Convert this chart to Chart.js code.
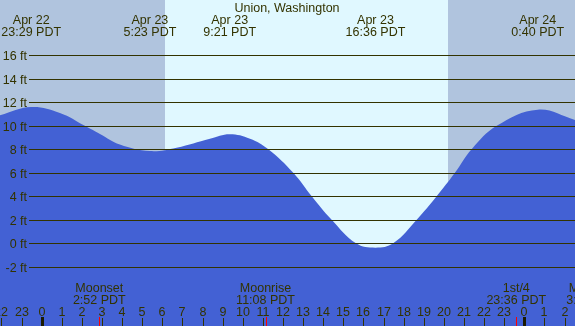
<!DOCTYPE html>
<html>
<head>
<meta charset="utf-8">
<script src="https://cdn.jsdelivr.net/npm/chart.js@4/dist/chart.umd.min.js"></script>
<style>
  body { margin: 0; background: #ffffff; }
  #wrap { width: 575px; height: 326px; position: relative; }
</style>
</head>
<body>
<div id="wrap"><canvas id="tideChart"></canvas></div>
<script>
// hours are counted from Apr 23 00:00 PDT
let tideHours = [-2.07, -0.52, 0.91, 2.15, 2.9, 3.89, 5.38, 6.71, 8.37, 9.35, 10.36, 11.27, 12.51, 13.43, 14.42, 15.63, 16.6, 17.48, 18.65, 19.64, 20.55, 21.38, 22.63, 24.67, 26.52];
let tideFeet  = [10.9, 11.6, 11.1, 10.0, 9.3, 8.4, 7.85, 8.14, 8.9, 9.28, 8.9, 8.0, 6.0, 4.0, 2.0, 0.0, -0.37, 0.0, 2.0, 4.0, 6.0, 8.0, 10.0, 11.37, 10.5];

let extremeHours = [-0.517, 5.383, 9.35, 16.6, 24.667];
let extremeDates = ['Apr 22', 'Apr 23', 'Apr 23', 'Apr 23', 'Apr 24'];
let extremeTimes = ['23:29 PDT', '5:23 PDT', '9:21 PDT', '16:36 PDT', '0:40 PDT'];

let moonHours = [2.867, 11.133, 23.6, 27.4];
let moonNames = ['Moonset', 'Moonrise', '1st/4', 'Moonset'];
let moonTimes = ['2:52 PDT', '11:08 PDT', '23:36 PDT', '3:24 PDT'];

let sunrise = 6.13;
let sunset = 20.2;

let feetTicks = [-2, 0, 2, 4, 6, 8, 10, 12, 14, 16];
let hourTicks = [-2, -1, 0, 1, 2, 3, 4, 5, 6, 7, 8, 9, 10, 11, 12, 13, 14, 15, 16, 17, 18, 19, 20, 21, 22, 23, 24, 25, 26];

let title = 'Union, Washington';

const textColor = '#333300';
const font = "12.5px 'Liberation Sans', Arial, sans-serif";

let tideDecor = {
    id: 'tideDecor',
    beforeDatasetsDraw(chart) {
        let ctx = chart.ctx, xs = chart.scales.x, a = chart.chartArea;
        ctx.save();
        ctx.fillStyle = '#e0f8ff';
        ctx.fillRect(a.left, a.top, a.right - a.left, a.bottom - a.top);
        ctx.fillStyle = '#b0c4de';
        let xr = Math.round(xs.getPixelForValue(sunrise));
        let xsn = Math.round(xs.getPixelForValue(sunset));
        ctx.fillRect(a.left, a.top, xr - a.left, a.bottom - a.top);
        ctx.fillRect(xsn, a.top, a.right - xsn, a.bottom - a.top);
        ctx.restore();
    },
    afterDatasetsDraw(chart) {
        let ctx = chart.ctx, xs = chart.scales.x, ys = chart.scales.y, a = chart.chartArea;
        ctx.save();
        ctx.font = font;
        ctx.fillStyle = textColor;

        // horizontal grid lines with labels
        ctx.strokeStyle = '#333300';
        ctx.lineWidth = 1;
        feetTicks.forEach(ft => {
            let y = Math.round(ys.getPixelForValue(ft)) + 0.5;
            ctx.beginPath();
            ctx.moveTo(29, y);
            ctx.lineTo(a.right, y);
            ctx.stroke();
            ctx.textAlign = 'right';
            ctx.fillText(ft + ' ft', 27, y + 4.5);
        });

        // title and high/low labels
        ctx.textAlign = 'center';
        ctx.fillText(title, 287, 12);
        extremeHours.forEach((h, i) => {
            let x = xs.getPixelForValue(h);
            ctx.fillText(extremeDates[i], x, 24);
            ctx.fillText(extremeTimes[i], x, 36);
        });

        // hour ticks
        hourTicks.forEach(h => {
            let x = Math.round(xs.getPixelForValue(h));
            let lbl = String(((h % 24) + 24) % 24);
            ctx.fillStyle = textColor;
            ctx.fillText(lbl, x, 316);
            if (lbl === '0') {
                ctx.fillStyle = '#1a1a00';
                ctx.fillRect(x - 1, 317, 3, 9);
            } else {
                ctx.fillStyle = '#333300';
                ctx.fillRect(x, 318, 1, 8);
            }
        });

        // moon events
        moonHours.forEach((h, i) => {
            let x = xs.getPixelForValue(h);
            ctx.fillStyle = textColor;
            ctx.fillText(moonNames[i], x, 292);
            ctx.fillText(moonTimes[i], x, 304);
            ctx.fillStyle = '#ff0000';
            ctx.fillRect(Math.round(x), 317, 1, 9);
        });
        ctx.restore();
    }
};

new Chart(document.getElementById('tideChart'), {
    type: 'line',
    data: {
        datasets: [{
            data: tideHours.map((h, i) => ({ x: h, y: tideFeet[i] })),
            fill: 'start',
            backgroundColor: '#4361d4',
            borderWidth: 0,
            pointRadius: 0,
            tension: 0.4
        }]
    },
    options: {
        responsive: true,
        maintainAspectRatio: false,
        animation: false,
        devicePixelRatio: 1,
        layout: { padding: 0 },
        plugins: { legend: { display: false }, tooltip: { enabled: false } },
        scales: {
            x: { type: 'linear', min: -2.07, max: 26.52, display: false },
            y: { min: -7.04, max: 20.71, display: false }
        }
    },
    plugins: [tideDecor]
});
</script>
</body>
</html>
